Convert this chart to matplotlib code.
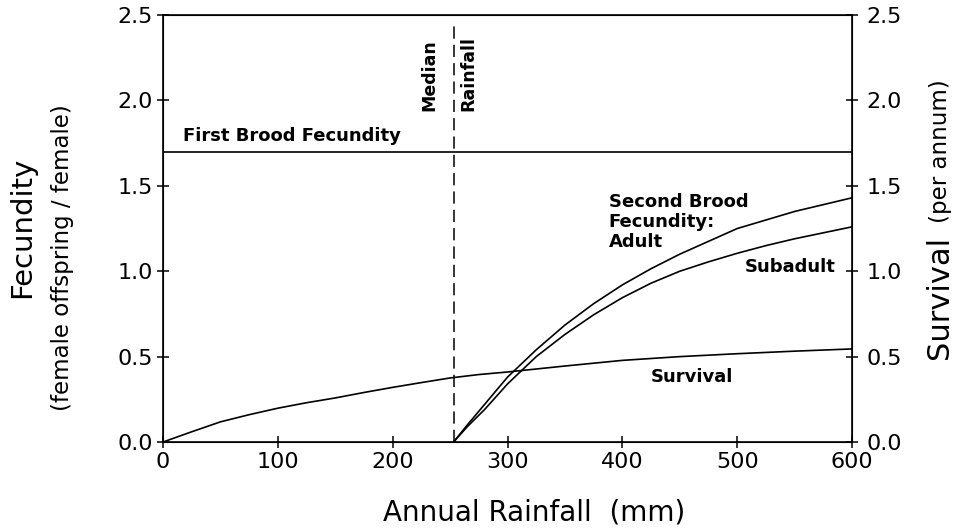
import matplotlib
matplotlib.use("Agg")
import matplotlib.pyplot as plt

# values
rain = [0, 25, 50, 75, 100, 125, 150, 175, 200, 225, 250, 275, 300,
        350, 400, 450, 500, 550, 600]
survival = [0, 0.06, 0.118, 0.16, 0.198, 0.23, 0.258, 0.29, 0.32, 0.348,
            0.375, 0.395, 0.41, 0.445, 0.478, 0.50, 0.517, 0.532, 0.545]

brood_rain = [253, 265, 280, 300, 325, 350, 375, 400, 425, 450, 475, 500,
              525, 550, 575, 600]
adult = [0, 0.10, 0.22, 0.38, 0.54, 0.685, 0.81, 0.92, 1.015, 1.10, 1.175,
         1.25, 1.30, 1.35, 1.39, 1.43]
subadult = [0, 0.09, 0.19, 0.34, 0.50, 0.63, 0.745, 0.845, 0.93, 1.00, 1.055,
            1.105, 1.15, 1.19, 1.225, 1.26]

first_brood = 1.7
median_rain = 253

x_ticks = [0, 100, 200, 300, 400, 500, 600]
y_ticks = [0.0, 0.5, 1.0, 1.5, 2.0, 2.5]

plt.rcParams['font.family'] = ['DejaVu Sans']

fig = plt.figure(figsize=(9.67, 5.31), dpi=100)
ax = fig.add_axes([0.1686, 0.1676, 0.7125, 0.804])

lw = 1.2
ax.plot([0, 600], [first_brood, first_brood], color='black', lw=lw)
ax.plot(rain, survival, color='black', lw=lw)
ax.plot(brood_rain, adult, color='black', lw=lw)
ax.plot(brood_rain, subadult, color='black', lw=lw)
ax.plot([median_rain, median_rain], [0, 2.46], color='black', lw=1.1,
        dashes=(8, 4))

ax.set_xlim(0, 600)
ax.set_ylim(0, 2.5)
ax.set_xticks(x_ticks)
ax.set_yticks(y_ticks)
ax.set_yticklabels([f"{v:.1f}" for v in y_ticks])
ax.tick_params(direction='inout', length=9, width=1.1, labelsize=16, pad=3)
for s in ax.spines.values():
    s.set_linewidth(1.2)

ax2 = ax.twinx()
ax2.set_ylim(0, 2.5)
ax2.set_yticks(y_ticks)
ax2.set_yticklabels([f"{v:.1f}" for v in y_ticks])
ax2.tick_params(direction='inout', length=9, width=1.1, labelsize=16, pad=6)

# labels inside the plot
ax.text(17, 1.79, "First Brood Fecundity", fontsize=13, fontweight='bold',
        ha='left', va='center')
ax.text(232, 1.94, "Median", rotation=90, fontsize=12.5,
        fontweight='bold', ha='center', va='bottom')
ax.text(266, 1.94, "Rainfall", rotation=90, fontsize=12.5,
        fontweight='bold', ha='center', va='bottom')
ax.text(388, 1.29, "Second Brood\nFecundity:\nAdult", fontsize=13,
        fontweight='bold', ha='left', va='center', linespacing=1.15)
ax.text(586, 1.026, "Subadult", fontsize=13, fontweight='bold',
        ha='right', va='center')
ax.text(461, 0.383, "Survival", fontsize=13, fontweight='bold',
        ha='center', va='center')

# axis titles
fig.text(534 / 967, 1 - 512 / 531, "Annual Rainfall  (mm)", fontsize=20,
         ha='center', va='center')
fig.text(22 / 967, 1 - 227 / 531, "Fecundity", fontsize=21, rotation=90,
         ha='center', va='center')
fig.text(63 / 967, 1 - 258 / 531, "(female offspring / female)", fontsize=16.5,
         rotation=90, ha='center', va='center')
fig.text(940 / 967, 1 - 297 / 531, "Survival", fontsize=22, rotation=90,
         ha='center', va='center')
fig.text(940 / 967, 1 - 151 / 531, "(per annum)", fontsize=16.5, rotation=90,
         ha='center', va='center')

fig.savefig("out.png", dpi=100)
